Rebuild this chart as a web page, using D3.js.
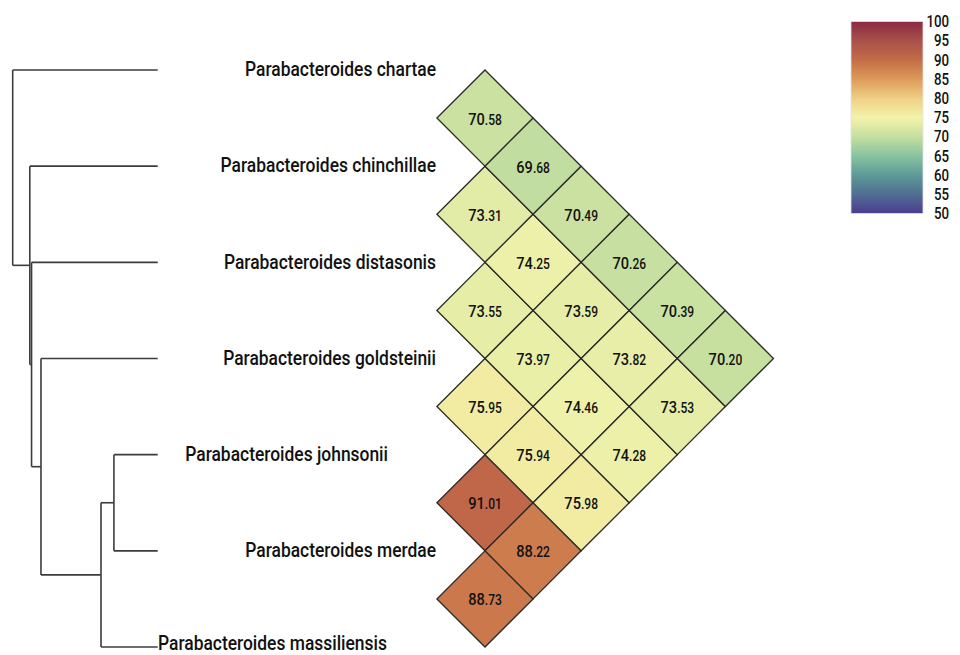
<!DOCTYPE html>
<html>
<head>
<meta charset="utf-8">
<script src="https://cdn.jsdelivr.net/npm/d3@7"></script>
<style>
  body { margin: 0; background: #fff; }
  svg { display: block; font-family: Roboto, "Noto Sans", sans-serif; }
</style>
</head>
<body>
<div id="chart"></div>
<script>
// leaves, top to bottom
var species = [
  'Parabacteroides chartae',
  'Parabacteroides chinchillae',
  'Parabacteroides distasonis',
  'Parabacteroides goldsteinii',
  'Parabacteroides johnsonii',
  'Parabacteroides merdae',
  'Parabacteroides massiliensis'
];

// tree: id, parent, distance from root (0 = root, 1 = tips)
var treeIds     = ['root', 'n5', 'n4', 'n3', 'n2', 'n1'].concat(species);
var treeParents = ['', 'root', 'n5', 'n4', 'n3', 'n2', 'root', 'n5', 'n4', 'n3', 'n1', 'n1', 'n2'];
var treeDist    = [0, 0.118, 0.130, 0.195, 0.609, 0.698, 1, 1, 1, 1, 1, 1, 1];

// ANI values by diagonal: diagN[i] is species i vs species i+N
var diag1 = [70.58, 73.31, 73.55, 75.95, 91.01, 88.73];
var diag2 = [69.68, 74.25, 73.97, 75.94, 88.22];
var diag3 = [70.49, 73.59, 74.46, 75.98];
var diag4 = [70.26, 73.82, 74.28];
var diag5 = [70.39, 73.53];
var diag6 = [70.20];
var diagonals = [diag1, diag2, diag3, diag4, diag5, diag6];

// legend
var legendTicks = [100, 95, 90, 85, 80, 75, 70, 65, 60, 55, 50];
var colorStops  = [50, 55, 60, 65, 70, 75, 80, 85, 90, 95, 100];
var colorValues = ['#4b3d8f', '#516e93', '#5d9a97', '#88c3a0', '#c5dfa0', '#f3f3aa',
                   '#efcf85', '#dc9a5a', '#c46c47', '#a9514a', '#8b2943'];

var width = 960, height = 655;
var condense = 0.83;

var svg = d3.select('#chart').append('svg')
    .attr('width', width)
    .attr('height', height);

var color = d3.scaleLinear()
    .domain(colorStops)
    .range(colorValues)
    .interpolate(d3.interpolateRgb);

var y = d3.scalePoint()
    .domain(species)
    .range([70, 647]);

var half = y.step() / 2;

var x = d3.scaleLinear()
    .domain([0, 1])
    .range([12.7, 157.7]);

// ---- dendrogram ----
var table = treeIds.map(function(id, i) {
  return {id: id, parent: treeParents[i], dist: treeDist[i]};
});
var root = d3.stratify()
    .id(function(d) { return d.id; })
    .parentId(function(d) { return d.parent || null; })(table);

root.eachAfter(function(node) {
  node.px = x(node.data.dist);
  if (!node.children) {
    node.py = y(node.data.id);
  } else {
    node.py = d3.mean(node.children, function(c) { return c.py; });
  }
});

var tree = svg.append('g')
    .attr('fill', 'none')
    .attr('stroke', '#3c3c3c')
    .attr('stroke-width', 1.6);

root.descendants().forEach(function(node) {
  if (!node.children) return;
  var ys = node.children.map(function(c) { return c.py; });
  tree.append('line')
      .attr('x1', node.px).attr('x2', node.px)
      .attr('y1', d3.min(ys)).attr('y2', d3.max(ys));
  node.children.forEach(function(c) {
    tree.append('line')
        .attr('x1', node.px).attr('x2', c.px)
        .attr('y1', c.py).attr('y2', c.py);
  });
});

// leaf labels; most are right aligned, two sit further left like the original
var labelPlace = {
  'Parabacteroides johnsonii': {anchor: 'end', x: 388, dy: '0.3em'},
  'Parabacteroides massiliensis': {anchor: 'start', x: 158, dy: '0.12em'}
};

svg.append('g')
  .selectAll('g')
  .data(species)
  .enter()
  .append('g')
    .attr('transform', function(d) {
      var p = labelPlace[d] || {x: 436};
      return 'translate(' + p.x + ',' + y(d) + ') scale(' + condense + ',1)';
    })
  .append('text')
    .attr('text-anchor', function(d) { return (labelPlace[d] || {anchor: 'end'}).anchor; })
    .attr('dy', function(d) { return (labelPlace[d] || {dy: '0.3em'}).dy; })
    .attr('fill', '#111')
    .style('font-size', '21px')
    .style('font-weight', 500)
    .text(function(d) { return d; });

// ---- heatmap of diamonds ----
var col = d3.scaleLinear()
    .domain([1, 2])
    .range([485, 485 + half]);

var cells = [];
diagonals.forEach(function(values, k) {
  values.forEach(function(v, i) {
    var a = species[i], b = species[i + k + 1];
    cells.push({a: a, b: b, value: v, cx: col(k + 1), cy: (y(a) + y(b)) / 2});
  });
});

var cell = svg.append('g')
  .selectAll('g')
  .data(cells)
  .enter()
  .append('g')
    .attr('transform', function(d) { return 'translate(' + d.cx + ',' + d.cy + ')'; });

cell.append('path')
    .attr('d', 'M0,' + (-half) + 'L' + half + ',0L0,' + half + 'L' + (-half) + ',0Z')
    .attr('fill', function(d) { return color(d.value); })
    .attr('stroke', '#2a2a2a')
    .attr('stroke-width', 1.3);

var num = cell.append('text')
    .attr('transform', 'scale(0.86,1)')
    .attr('text-anchor', 'middle')
    .attr('y', 6.5)
    .attr('fill', '#111')
    .style('font-weight', 500);

num.append('tspan')
    .style('font-size', '17px')
    .text(function(d) { return d.value.toFixed(2).split('.')[0]; });
num.append('tspan')
    .style('font-size', '14px')
    .text(function(d) { return '.' + d.value.toFixed(2).split('.')[1]; });

// ---- colour legend ----
var ly = d3.scaleLinear()
    .domain([50, 100])
    .range([213.5, 21.5]);

var grad = svg.append('defs').append('linearGradient')
    .attr('id', 'legend-grad')
    .attr('x1', 0).attr('x2', 0)
    .attr('y1', 1).attr('y2', 0);

grad.selectAll('stop')
    .data(colorStops)
    .enter()
    .append('stop')
    .attr('offset', function(d) { return (d - 50) / 50; })
    .attr('stop-color', function(d) { return color(d); });

svg.append('rect')
    .attr('x', 851)
    .attr('y', ly(100))
    .attr('width', 72)
    .attr('height', ly(50) - ly(100))
    .attr('fill', 'url(#legend-grad)')
    .attr('stroke', '#e4e0e8')
    .attr('stroke-width', 0.8);

svg.append('g')
  .selectAll('g')
  .data(legendTicks)
  .enter()
  .append('g')
    .attr('transform', function(d) { return 'translate(949,' + ly(d) + ') scale(' + condense + ',1)'; })
  .append('text')
    .attr('text-anchor', 'end')
    .attr('dy', '0.36em')
    .attr('fill', '#111')
    .style('font-size', '16px')
    .style('font-weight', 500)
    .text(function(d) { return d; });
</script>
</body>
</html>
